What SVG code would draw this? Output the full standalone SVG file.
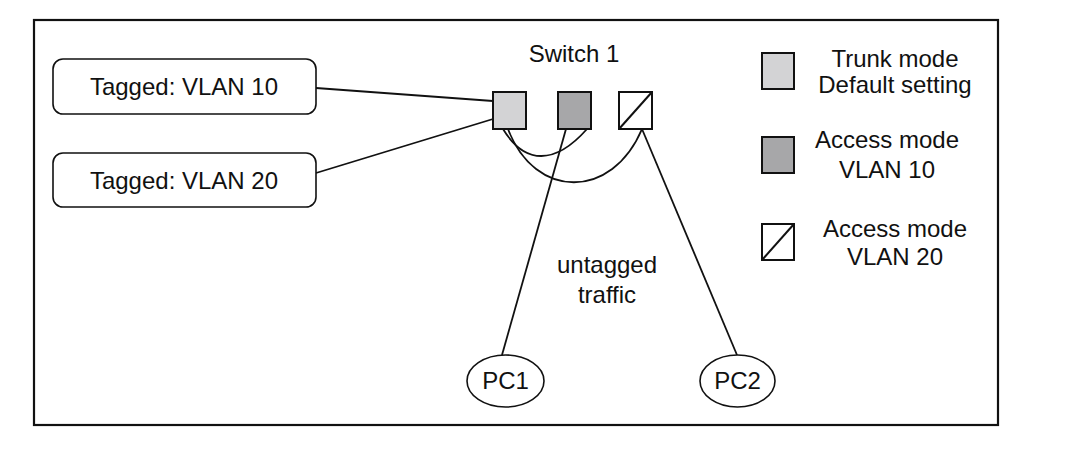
<svg xmlns="http://www.w3.org/2000/svg" width="1074" height="474" viewBox="0 0 1074 474">
<style>
text{font-family:"Liberation Sans",Arial,sans-serif;font-size:24px;fill:#111;text-anchor:middle}
.box{fill:#fff;stroke:#111;stroke-width:1.6}
.port{stroke:#111;stroke-width:2}
.trunk{fill:#d3d3d5}
.acc10{fill:#a7a7a9}
.acc20{fill:#fff}
.pc{fill:#fff;stroke:#111;stroke-width:1.6}
.wire{fill:none;stroke:#111;stroke-width:1.8}
</style>
<rect x="34" y="20" width="964" height="405" fill="#fff" stroke="#111" stroke-width="2.2"/>
<g id="connectors">
<path class="wire" d="M316,88 L493,101"/>
<path class="wire" d="M316,173 L493,119"/>
<path class="wire" d="M503,129 C525,165 555,165 587,129"/>
<path class="wire" d="M508,129 C535,200 612,200 642,129"/>
<path class="wire" d="M566,129 L502,355"/>
<path class="wire" d="M642,129 L737,355"/>
</g>
<g id="tagged10"><rect class="box" x="53" y="59" width="263" height="55" rx="10"/><text x="184" y="95">Tagged: VLAN 10</text></g>
<g id="tagged20"><rect class="box" x="53" y="153" width="263" height="54" rx="10"/><text x="184" y="189">Tagged: VLAN 20</text></g>
<g id="switch1">
<text x="574" y="62">Switch 1</text>
<rect class="port trunk" x="493" y="92" width="33" height="37"/>
<rect class="port acc10" x="558" y="92" width="33" height="37"/>
<rect class="port acc20" x="619" y="92" width="33" height="37"/>
<line class="port" x1="619" y1="129" x2="652" y2="92"/>
</g>
<g id="pc1"><ellipse class="pc" cx="505.5" cy="381" rx="38.5" ry="26"/><text x="505.5" y="389">PC1</text></g>
<g id="pc2"><ellipse class="pc" cx="737.5" cy="381" rx="37.5" ry="26"/><text x="737.5" y="389">PC2</text></g>
<g id="label-untagged"><text x="607" y="273">untagged</text><text x="607" y="303">traffic</text></g>
<g id="legend">
<rect class="port trunk" x="762" y="53" width="32" height="36"/>
<text x="895" y="67">Trunk mode</text><text x="895" y="93">Default setting</text>
<rect class="port acc10" x="762" y="137" width="32" height="36"/>
<text x="887" y="148">Access mode</text><text x="887" y="178">VLAN 10</text>
<rect class="port acc20" x="762" y="224" width="32" height="36"/>
<line class="port" x1="762" y1="260" x2="794" y2="224"/>
<text x="895" y="237">Access mode</text><text x="895" y="265">VLAN 20</text>
</g>
</svg>
